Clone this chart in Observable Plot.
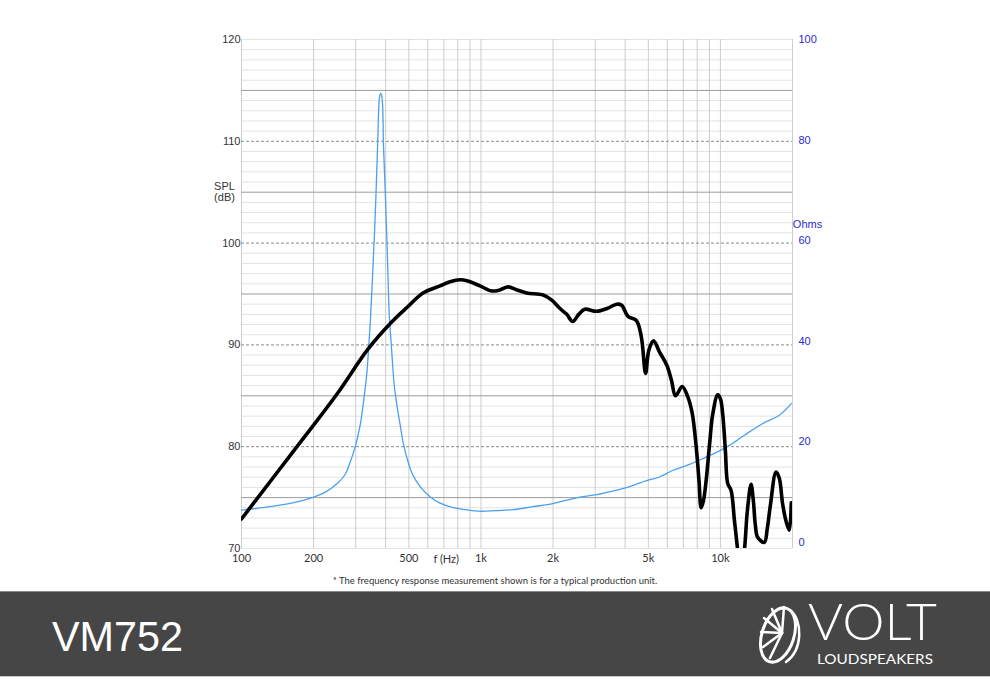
<!DOCTYPE html>
<html>
<head>
<meta charset="utf-8">
<script src="https://cdn.jsdelivr.net/npm/d3@7"></script>
<script src="https://cdn.jsdelivr.net/npm/@observablehq/plot@0.6"></script>
<style>
  html, body { margin: 0; padding: 0; background: #fff; }
  body { width: 990px; height: 700px; position: relative; overflow: hidden; font-family: "Liberation Sans", Arial, sans-serif; }
  #chart { position: absolute; left: 0; top: 0; }
  #caption { position: absolute; top: 575px; left: 0; width: 990px; text-align: center; font-family: Lato, "Noto Sans", sans-serif; font-size: 9.5px; color: #333; line-height: 12px; }
  #footer { position: absolute; left: 0; top: 588px; width: 990px; height: 112px; }
  #footer svg { display: block; }
</style>
</head>
<body>
<div id="chart"></div>
<div id="caption">* The frequency response measurement shown is for a typical production unit.</div>
<div id="footer">
  <svg width="990" height="112" viewBox="0 0 990 112">
    <rect x="0" y="3" width="990" height="86" fill="#464646"/>
    <line x1="0" x2="990" y1="3.5" y2="3.5" stroke="#8c8c8c"/>
    <line x1="0" x2="990" y1="88.5" y2="88.5" stroke="#c8c8c8"/>
    <text x="52" y="63" fill="#fff" font-family="Liberation Sans, Arial, sans-serif" font-size="43" textLength="131" lengthAdjust="spacingAndGlyphs">VM752</text>
    <g fill="none" stroke="#fff" stroke-linecap="round">
      <ellipse cx="778" cy="47" rx="16" ry="28" transform="rotate(18 778 47)" stroke-width="3"/>
      <path d="M790 22 C803 32 803 62 786 74" stroke-width="2.5"/>
      <line x1="782" y1="45" x2="772" y2="21" stroke-width="2.5"/>
      <line x1="782" y1="45" x2="764" y2="30" stroke-width="2.5"/>
      <line x1="782" y1="45" x2="761" y2="44" stroke-width="2.5"/>
      <line x1="782" y1="45" x2="763" y2="59" stroke-width="2.5"/>
      <line x1="782" y1="45" x2="770" y2="70" stroke-width="2.5"/>
      <line x1="782" y1="45" x2="784" y2="19" stroke-width="2.5"/>
    </g>
    <text x="808" y="51.5" fill="#fff" font-family="Lato, 'Open Sans', sans-serif" font-weight="300" font-size="51" textLength="129" lengthAdjust="spacingAndGlyphs">VOLT</text>
    <text x="817" y="75.5" fill="#fff" font-family="Lato, 'Open Sans', sans-serif" font-weight="400" font-size="13.5" textLength="116" lengthAdjust="spacingAndGlyphs">LOUDSPEAKERS</text>
  </svg>
</div>
<script>
// ---- Data ----
// SPL frequency response (black curve), Hz / dB
const splFreq = [100,136,188,251,338,418,492,573,675,743,
  818,874,990,1108,1200,
  1300,1413,1550,1818,1976,2134,2282,2417,2561,2712,
  3035,3382,3687,3868,4110,4455,4674,4870,5027,5258,
  5569,5974,6249,6494,6925,7307,7623,7922,8137,8311,
  8497,8719,8999,9289,9745,10000,10223,10491,10725,11081,
  11437,11808,12115,12589,12957,13426,13725,13991,14303,15254,
  15700,16160,17068,17615,18181,18836,19390,19766];
const splDb = [72.9,77.0,81.3,85.2,89.6,92.1,93.7,95.1,95.8,96.2,
  96.4,96.3,95.8,95.3,95.4,
  95.7,95.4,95.1,94.9,94.4,93.6,93.0,92.3,93.0,93.5,
  93.3,93.6,94.0,93.9,92.8,92.4,90.8,87.2,89.5,90.4,
  89.3,88.0,86.5,85.0,85.9,84.9,83.3,80.0,76.7,74.0,
  74.7,76.7,80.1,83.2,85.1,84.7,83.2,79.6,76.4,75.7,
  72.8,69.8,67.3,69.8,73.7,76.3,74.7,72.3,71.1,70.6,
  72.0,74.2,77.5,76.9,74.4,72.6,71.8,74.5];

// Impedance (blue curve), Hz / ohms
const zFreq = [100,136,176,200,224,251,271,284,298,313,
  323,334,339,345,352,362,370,377,381,386,
  392,401,409,414,421,426,434,444,460,473,
  490,516,557,613,675,765,866,990,1144,1359,
  1647,1995,2282,2585,3044,3548,4178,4917,5569,6310,
  7427,8744,10000,10902,12589,14962,17615,19766];
const zOhm = [6.4,7.2,8.2,9.0,10.0,11.7,13.5,15.9,18.9,23.3,
  27.8,33.8,38.2,43.7,52.1,65.4,78.5,88.5,89.3,88.5,
  78.5,66.0,53.1,45.3,40.1,36.6,31.4,27.8,23.3,19.9,
  16.9,13.7,11.1,9.1,7.8,6.9,6.5,6.2,6.3,6.5,
  7.1,7.7,8.4,9.0,9.5,10.2,11.1,12.3,13.0,14.3,
  15.5,17.0,18.3,19.3,21.3,23.6,25.3,27.6];

// Tick labels
const xTicks = [100,200,500,1000,2000,5000,10000];
const yTicks = [70,80,90,100,110,120];
const ohmTicks = [0,20,40,60,80,100];

// Grid
const gridFreq = [100,200,300,400,500,600,700,800,900,1000,2000,3000,4000,5000,6000,7000,8000,9000,10000,20000];
const minorDb = d3.range(70,121).filter(d => d % 5 !== 0 || d === 70 || d === 120);
const fiveDb = [75,85,95,105,115];
const tenDb = [80,90,100,110];

// right (ohm) axis is linear against the dB axis
const OHM0 = 70.6, OHMK = 0.494;
const toDb = o => OHM0 + OHMK * o;

const spl = splFreq.map((f, i) => ({f, v: splDb[i]}));
const imp = zFreq.map((f, i) => ({f, v: toDb(zOhm[i])}));

const fmtX = d => d >= 1000 ? (d / 1000) + "k" : String(d);

const chart = Plot.plot({
  width: 990,
  height: 570,
  marginLeft: 241,
  marginRight: 198,
  marginTop: 39,
  marginBottom: 22,
  style: {fontFamily: "'Liberation Sans', Arial, sans-serif", fontSize: "11px", color: "#333", background: "transparent"},
  x: {type: "log", domain: [100, 20000]},
  y: {domain: [70, 120]},
  marks: [
    Plot.ruleY(minorDb, {stroke: "#e3e3e3", strokeWidth: 1}),
    Plot.ruleX(gridFreq, {stroke: "#cdcdcd", strokeWidth: 1}),
    Plot.ruleY(fiveDb, {stroke: "#9c9c9c", strokeWidth: 1}),
    Plot.ruleY(tenDb, {stroke: "#8a8a8a", strokeWidth: 1, strokeDasharray: "3,2"}),
    Plot.line(imp, {x: "f", y: "v", stroke: "#4aa0ee", strokeWidth: 1.3, curve: "catmull-rom", clip: true}),
    Plot.line(spl, {x: "f", y: "v", stroke: "#000", strokeWidth: 3.6, curve: "catmull-rom", clip: true}),
    Plot.axisX({ticks: xTicks, tickSize: 0, tickPadding: 6, tickFormat: fmtX, label: null, fontFamily: "Lato, 'Noto Sans', sans-serif", fontSize: 11, fill: "#333"}),
    Plot.text([{x: 716}], {x: "x", text: () => "f (Hz)", frameAnchor: "bottom", dy: 11, lineAnchor: "middle", fontFamily: "Lato, 'Noto Sans', sans-serif", fontSize: 11, fill: "#333"}),
    Plot.axisY({ticks: yTicks, tickSize: 0, tickPadding: 1, label: null, fontSize: 11, fill: "#333"}),
    Plot.text([{y: 105.0}], {y: "y", text: () => "SPL\n(dB)", frameAnchor: "left", dx: -17, textAnchor: "middle", lineAnchor: "middle", lineHeight: 1, fontSize: 11, fill: "#333"}),
    Plot.text(ohmTicks, {y: d => toDb(d), text: d => String(d), frameAnchor: "right", dx: 6, textAnchor: "start", fontSize: 11, fill: "#2b2bd0"}),
    Plot.text([{y: 101.8}], {y: "y", text: () => "Ohms", frameAnchor: "right", dx: 15, textAnchor: "middle", fontSize: 11, fill: "#2b2bd0"})
  ]
});
document.getElementById("chart").appendChild(chart);
</script>
</body>
</html>
